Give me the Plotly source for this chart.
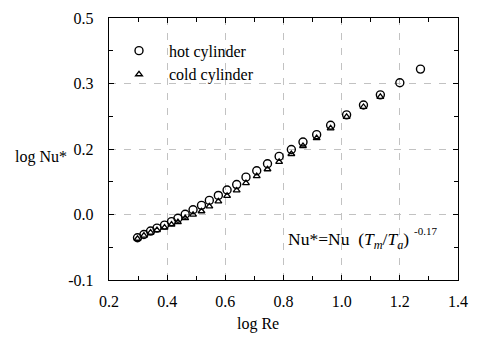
import plotly.graph_objects as go

# log Re values
log_re = [0.298, 0.320, 0.343, 0.365, 0.391, 0.415, 0.437, 0.462, 0.489, 0.518,
          0.545, 0.576, 0.606, 0.639, 0.671, 0.708, 0.745, 0.785, 0.827, 0.867,
          0.914, 0.962, 1.017, 1.075, 1.133, 1.200, 1.271]
# hot cylinder log Nu*
hot_nu = [-0.0355, -0.0306, -0.0253, -0.0208, -0.0162, -0.0109, -0.0057, 0.0004, 0.0072, 0.0140,
          0.0215, 0.0291, 0.0374, 0.0457, 0.0570, 0.0668, 0.0774, 0.0887, 0.0992, 0.1106,
          0.1219, 0.1362, 0.1521, 0.1672, 0.1827, 0.2011, 0.2220]
# cold cylinder log Nu* (first 25 Re values)
cold_re = log_re[:25]
cold_nu = [-0.0370, -0.0321, -0.0276, -0.0238, -0.0200, -0.0154, -0.0117, -0.0056, -0.0003, 0.0050,
           0.0125, 0.0201, 0.0284, 0.0367, 0.0480, 0.0585, 0.0691, 0.0804, 0.0924, 0.1046,
           0.1166, 0.1316, 0.1491, 0.1642, 0.1797]

x_ticks = [0.2, 0.4, 0.6, 0.8, 1.0, 1.2, 1.4]
x_ticktext = ["0.2", "0.4", "0.6", "0.8", "1.0", "1.2", "1.4"]
y_ticks = [-0.1, 0.0, 0.1, 0.2, 0.3]
y_ticktext = ["-0.1", "0.0", "0.2", "0.3", "0.5"]

FONT = "Liberation Serif"
FS = 16

fig = go.Figure()
fig.add_trace(go.Scatter(
    x=log_re, y=hot_nu, mode="markers", name="hot cylinder", legend="legend",
    marker=dict(symbol="circle-open", size=8, color="black", line=dict(width=1.4, color="black")),
))
fig.add_trace(go.Scatter(
    x=cold_re, y=cold_nu, mode="markers", name="cold cylinder", legend="legend2",
    marker=dict(symbol="triangle-up-open", size=6, color="black", line=dict(width=1.3, color="black")),
))

axis_common = dict(
    showline=True, linecolor="black", linewidth=1.4, mirror="ticks",
    ticks="inside", ticklen=5, tickwidth=1.1, tickcolor="black",
    showgrid=True, gridcolor="#c2c2c2", gridwidth=0.8, griddash="7px,8px",
    zeroline=False,
    tickfont=dict(family=FONT, size=FS, color="black"),
    minor=dict(ticks="inside", ticklen=4, tickcolor="black", showgrid=False),
)

legend_common = dict(xanchor="left", yanchor="middle", bgcolor="rgba(0,0,0,0)",
                     font=dict(family=FONT, size=FS, color="black"),
                     itemsizing="trace", itemwidth=50)

fig.update_layout(
    width=478, height=337,
    margin=dict(l=109, r=10, t=15, b=57),
    paper_bgcolor="white", plot_bgcolor="white",
    showlegend=True,
    legend=dict(x=0.0, y=0.875, **legend_common),
    legend2=dict(x=0.0, y=0.785, **legend_common),
    font=dict(family=FONT, color="black"),
)
fig.update_xaxes(range=[0.2, 1.4], tickvals=x_ticks, ticktext=x_ticktext,
                 ticklabelstandoff=7, minor_dtick=0.1, minor_tick0=0.2, **axis_common)
fig.update_yaxes(range=[-0.1, 0.3], tickvals=y_ticks, ticktext=y_ticktext,
                 ticklabelstandoff=11, minor_dtick=0.05, minor_tick0=-0.1, **axis_common)

fig.add_annotation(text="log Nu*", xref="paper", yref="paper", x=-0.275, y=0.47,
                   xanchor="left", yanchor="middle", showarrow=False,
                   font=dict(family=FONT, size=FS, color="black"))
fig.add_annotation(text="log Re", xref="paper", yref="paper", x=0.427, y=-0.125,
                   xanchor="center", yanchor="top", showarrow=False,
                   font=dict(family=FONT, size=FS, color="black"))
fig.add_annotation(text="Nu*=Nu  (<i>T<sub>m</sub></i>/<i>T<sub>a</sub></i>)",
                   xref="x", yref="y", x=0.81, y=-0.040,
                   xanchor="left", yanchor="middle", showarrow=False,
                   font=dict(family=FONT, size=17.5, color="black"))
fig.add_annotation(text="-0.17",
                   xref="x", yref="y", x=1.242, y=-0.025,
                   xanchor="left", yanchor="middle", showarrow=False,
                   font=dict(family=FONT, size=11, color="black"))

fig.write_html("out.html")
